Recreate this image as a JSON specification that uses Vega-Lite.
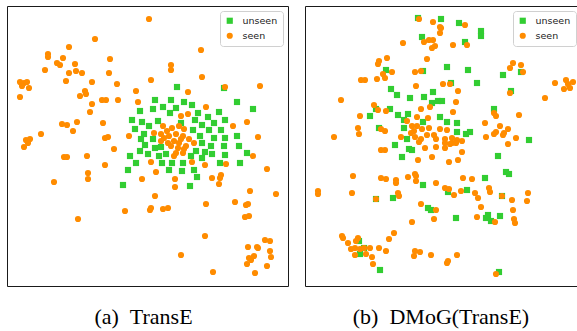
{
"$schema": "https://vega.github.io/schema/vega-lite/v6.json",
"padding": {"left": 6, "top": 5, "right": 0, "bottom": 0},
"spacing": 15,
"config": {
  "view": {"stroke": "#1a1a1a", "strokeWidth": 1},
  "legend": {"title": null, "orient": "top-right", "offset": 5, "fillColor": "white", "strokeColor": "#d0d0d0", "cornerRadius": 3, "padding": 5, "labelFont": "DejaVu Sans", "labelFontSize": 9.5, "labelColor": "#222", "symbolSize": 38, "rowPadding": 4, "labelOffset": 8, "symbolStrokeWidth": 0},
  "title": {"font": "Liberation Serif", "fontSize": 22, "fontWeight": "normal", "color": "black", "orient": "bottom", "offset": 21, "anchor": "middle"}
},
"datasets": {
"a": [
{"x":170,"y":81,"set":"unseen"},{"x":217,"y":82,"set":"unseen"},{"x":148,"y":94,"set":"unseen"},{"x":164,"y":94,"set":"unseen"},{"x":177,"y":96,"set":"unseen"},{"x":230,"y":96,"set":"unseen"},{"x":246,"y":103,"set":"unseen"},{"x":133,"y":105,"set":"unseen"},{"x":146,"y":103,"set":"unseen"},{"x":156,"y":101,"set":"unseen"},{"x":169,"y":102,"set":"unseen"},{"x":185,"y":99,"set":"unseen"},{"x":212,"y":106,"set":"unseen"},{"x":125,"y":114,"set":"unseen"},{"x":135,"y":116,"set":"unseen"},{"x":151,"y":115,"set":"unseen"},{"x":163,"y":107,"set":"unseen"},{"x":174,"y":117,"set":"unseen"},{"x":191,"y":107,"set":"unseen"},{"x":201,"y":111,"set":"unseen"},{"x":218,"y":114,"set":"unseen"},{"x":128,"y":123,"set":"unseen"},{"x":142,"y":120,"set":"unseen"},{"x":188,"y":114,"set":"unseen"},{"x":195,"y":119,"set":"unseen"},{"x":207,"y":117,"set":"unseen"},{"x":186,"y":124,"set":"unseen"},{"x":202,"y":124,"set":"unseen"},{"x":214,"y":124,"set":"unseen"},{"x":137,"y":128,"set":"unseen"},{"x":134,"y":133,"set":"unseen"},{"x":230,"y":130,"set":"unseen"},{"x":193,"y":130,"set":"unseen"},{"x":207,"y":132,"set":"unseen"},{"x":218,"y":132,"set":"unseen"},{"x":195,"y":137,"set":"unseen"},{"x":146,"y":133,"set":"unseen"},{"x":138,"y":139,"set":"unseen"},{"x":148,"y":142,"set":"unseen"},{"x":154,"y":141,"set":"unseen"},{"x":204,"y":140,"set":"unseen"},{"x":217,"y":140,"set":"unseen"},{"x":232,"y":140,"set":"unseen"},{"x":240,"y":147,"set":"unseen"},{"x":133,"y":145,"set":"unseen"},{"x":141,"y":148,"set":"unseen"},{"x":152,"y":150,"set":"unseen"},{"x":159,"y":148,"set":"unseen"},{"x":123,"y":150,"set":"unseen"},{"x":129,"y":157,"set":"unseen"},{"x":155,"y":157,"set":"unseen"},{"x":165,"y":157,"set":"unseen"},{"x":176,"y":157,"set":"unseen"},{"x":184,"y":150,"set":"unseen"},{"x":189,"y":145,"set":"unseen"},{"x":195,"y":152,"set":"unseen"},{"x":198,"y":146,"set":"unseen"},{"x":205,"y":148,"set":"unseen"},{"x":218,"y":149,"set":"unseen"},{"x":213,"y":157,"set":"unseen"},{"x":233,"y":157,"set":"unseen"},{"x":121,"y":164,"set":"unseen"},{"x":162,"y":164,"set":"unseen"},{"x":175,"y":165,"set":"unseen"},{"x":187,"y":164,"set":"unseen"},{"x":190,"y":171,"set":"unseen"},{"x":116,"y":179,"set":"unseen"},{"x":183,"y":180,"set":"unseen"},
{"x":142,"y":13,"set":"seen"},{"x":88,"y":33,"set":"seen"},{"x":62,"y":41,"set":"seen"},{"x":41,"y":48,"set":"seen"},{"x":41,"y":51,"set":"seen"},{"x":56,"y":52,"set":"seen"},{"x":50,"y":57,"set":"seen"},{"x":53,"y":59,"set":"seen"},{"x":68,"y":58,"set":"seen"},{"x":38,"y":64,"set":"seen"},{"x":62,"y":67,"set":"seen"},{"x":69,"y":65,"set":"seen"},{"x":75,"y":67,"set":"seen"},{"x":103,"y":53,"set":"seen"},{"x":102,"y":67,"set":"seen"},{"x":59,"y":75,"set":"seen"},{"x":85,"y":76,"set":"seen"},{"x":110,"y":78,"set":"seen"},{"x":13,"y":76,"set":"seen"},{"x":17,"y":77,"set":"seen"},{"x":20,"y":76,"set":"seen"},{"x":15,"y":80,"set":"seen"},{"x":22,"y":82,"set":"seen"},{"x":13,"y":91,"set":"seen"},{"x":78,"y":85,"set":"seen"},{"x":79,"y":88,"set":"seen"},{"x":73,"y":90,"set":"seen"},{"x":85,"y":98,"set":"seen"},{"x":95,"y":94,"set":"seen"},{"x":99,"y":94,"set":"seen"},{"x":111,"y":94,"set":"seen"},{"x":83,"y":106,"set":"seen"},{"x":129,"y":85,"set":"seen"},{"x":131,"y":96,"set":"seen"},{"x":144,"y":74,"set":"seen"},{"x":164,"y":59,"set":"seen"},{"x":164,"y":64,"set":"seen"},{"x":194,"y":44,"set":"seen"},{"x":195,"y":71,"set":"seen"},{"x":181,"y":86,"set":"seen"},{"x":218,"y":81,"set":"seen"},{"x":253,"y":80,"set":"seen"},{"x":199,"y":101,"set":"seen"},{"x":174,"y":110,"set":"seen"},{"x":181,"y":108,"set":"seen"},{"x":240,"y":116,"set":"seen"},{"x":226,"y":120,"set":"seen"},{"x":251,"y":131,"set":"seen"},{"x":55,"y":118,"set":"seen"},{"x":60,"y":119,"set":"seen"},{"x":70,"y":116,"set":"seen"},{"x":66,"y":125,"set":"seen"},{"x":96,"y":117,"set":"seen"},{"x":34,"y":128,"set":"seen"},{"x":23,"y":133,"set":"seen"},{"x":19,"y":134,"set":"seen"},{"x":17,"y":141,"set":"seen"},{"x":21,"y":137,"set":"seen"},{"x":98,"y":132,"set":"seen"},{"x":101,"y":131,"set":"seen"},{"x":107,"y":143,"set":"seen"},{"x":122,"y":130,"set":"seen"},
{"x":156,"y":120,"set":"seen"},{"x":160,"y":125,"set":"seen"},{"x":165,"y":122,"set":"seen"},{"x":172,"y":120,"set":"seen"},{"x":177,"y":123,"set":"seen"},{"x":147,"y":127,"set":"seen"},{"x":154,"y":128,"set":"seen"},{"x":162,"y":130,"set":"seen"},{"x":169,"y":128,"set":"seen"},{"x":176,"y":130,"set":"seen"},{"x":182,"y":133,"set":"seen"},{"x":187,"y":137,"set":"seen"},{"x":154,"y":135,"set":"seen"},{"x":161,"y":137,"set":"seen"},{"x":167,"y":135,"set":"seen"},{"x":172,"y":137,"set":"seen"},{"x":164,"y":140,"set":"seen"},{"x":171,"y":142,"set":"seen"},{"x":177,"y":143,"set":"seen"},{"x":169,"y":147,"set":"seen"},{"x":176,"y":147,"set":"seen"},{"x":167,"y":150,"set":"seen"},{"x":179,"y":140,"set":"seen"},{"x":174,"y":133,"set":"seen"},{"x":157,"y":132,"set":"seen"},
{"x":57,"y":151,"set":"seen"},{"x":60,"y":151,"set":"seen"},{"x":80,"y":150,"set":"seen"},{"x":98,"y":159,"set":"seen"},{"x":81,"y":167,"set":"seen"},{"x":81,"y":173,"set":"seen"},{"x":47,"y":176,"set":"seen"},{"x":135,"y":173,"set":"seen"},{"x":149,"y":166,"set":"seen"},{"x":144,"y":156,"set":"seen"},{"x":185,"y":156,"set":"seen"},{"x":198,"y":159,"set":"seen"},{"x":219,"y":158,"set":"seen"},{"x":246,"y":150,"set":"seen"},{"x":260,"y":163,"set":"seen"},{"x":168,"y":173,"set":"seen"},{"x":168,"y":181,"set":"seen"},{"x":205,"y":172,"set":"seen"},{"x":214,"y":169,"set":"seen"},{"x":213,"y":172,"set":"seen"},{"x":212,"y":178,"set":"seen"},{"x":243,"y":185,"set":"seen"},{"x":269,"y":188,"set":"seen"},{"x":148,"y":190,"set":"seen"},{"x":199,"y":198,"set":"seen"},{"x":228,"y":196,"set":"seen"},{"x":239,"y":199,"set":"seen"},{"x":241,"y":198,"set":"seen"},{"x":118,"y":205,"set":"seen"},{"x":143,"y":204,"set":"seen"},{"x":144,"y":202,"set":"seen"},{"x":156,"y":203,"set":"seen"},{"x":161,"y":202,"set":"seen"},{"x":71,"y":213,"set":"seen"},{"x":238,"y":211,"set":"seen"},{"x":242,"y":210,"set":"seen"},{"x":198,"y":230,"set":"seen"},{"x":174,"y":249,"set":"seen"},{"x":258,"y":234,"set":"seen"},{"x":263,"y":235,"set":"seen"},{"x":241,"y":241,"set":"seen"},{"x":250,"y":241,"set":"seen"},{"x":251,"y":242,"set":"seen"},{"x":263,"y":245,"set":"seen"},{"x":247,"y":250,"set":"seen"},{"x":242,"y":252,"set":"seen"},{"x":244,"y":254,"set":"seen"},{"x":240,"y":258,"set":"seen"},{"x":264,"y":251,"set":"seen"},{"x":260,"y":260,"set":"seen"},{"x":248,"y":267,"set":"seen"},{"x":206,"y":266,"set":"seen"}
],
"b": [
{"x":113,"y":12,"set":"unseen"},{"x":136,"y":13,"set":"unseen"},{"x":154,"y":17,"set":"unseen"},{"x":176,"y":25,"set":"unseen"},{"x":176,"y":30,"set":"unseen"},{"x":117,"y":31,"set":"unseen"},{"x":160,"y":36,"set":"unseen"},{"x":142,"y":61,"set":"unseen"},{"x":163,"y":64,"set":"unseen"},{"x":118,"y":65,"set":"unseen"},{"x":81,"y":64,"set":"unseen"},{"x":198,"y":69,"set":"unseen"},{"x":172,"y":77,"set":"unseen"},{"x":146,"y":77,"set":"unseen"},{"x":206,"y":85,"set":"unseen"},{"x":216,"y":66,"set":"unseen"},{"x":86,"y":83,"set":"unseen"},{"x":92,"y":89,"set":"unseen"},{"x":105,"y":92,"set":"unseen"},{"x":119,"y":91,"set":"unseen"},{"x":128,"y":86,"set":"unseen"},{"x":127,"y":97,"set":"unseen"},{"x":133,"y":95,"set":"unseen"},{"x":137,"y":95,"set":"unseen"},{"x":85,"y":103,"set":"unseen"},{"x":71,"y":103,"set":"unseen"},{"x":65,"y":110,"set":"unseen"},{"x":93,"y":109,"set":"unseen"},{"x":103,"y":108,"set":"unseen"},{"x":99,"y":114,"set":"unseen"},{"x":118,"y":116,"set":"unseen"},{"x":135,"y":111,"set":"unseen"},{"x":142,"y":116,"set":"unseen"},{"x":152,"y":117,"set":"unseen"},{"x":99,"y":122,"set":"unseen"},{"x":74,"y":122,"set":"unseen"},{"x":152,"y":126,"set":"unseen"},{"x":161,"y":128,"set":"unseen"},{"x":165,"y":126,"set":"unseen"},{"x":102,"y":133,"set":"unseen"},{"x":90,"y":139,"set":"unseen"},{"x":104,"y":143,"set":"unseen"},{"x":107,"y":144,"set":"unseen"},{"x":224,"y":134,"set":"unseen"},{"x":189,"y":103,"set":"unseen"},{"x":97,"y":151,"set":"unseen"},{"x":193,"y":150,"set":"unseen"},{"x":201,"y":166,"set":"unseen"},{"x":204,"y":168,"set":"unseen"},{"x":180,"y":172,"set":"unseen"},{"x":118,"y":179,"set":"unseen"},{"x":143,"y":186,"set":"unseen"},{"x":162,"y":184,"set":"unseen"},{"x":71,"y":193,"set":"unseen"},{"x":88,"y":192,"set":"unseen"},{"x":197,"y":190,"set":"unseen"},{"x":123,"y":202,"set":"unseen"},{"x":126,"y":204,"set":"unseen"},{"x":151,"y":212,"set":"unseen"},{"x":181,"y":212,"set":"unseen"},{"x":183,"y":209,"set":"unseen"},{"x":186,"y":215,"set":"unseen"},{"x":195,"y":210,"set":"unseen"},{"x":54,"y":235,"set":"unseen"},{"x":59,"y":242,"set":"unseen"},{"x":55,"y":248,"set":"unseen"},{"x":75,"y":264,"set":"unseen"},{"x":194,"y":266,"set":"unseen"},
{"x":114,"y":13,"set":"seen"},{"x":128,"y":16,"set":"seen"},{"x":135,"y":21,"set":"seen"},{"x":136,"y":22,"set":"seen"},{"x":135,"y":27,"set":"seen"},{"x":160,"y":19,"set":"seen"},{"x":98,"y":37,"set":"seen"},{"x":119,"y":36,"set":"seen"},{"x":124,"y":34,"set":"seen"},{"x":128,"y":34,"set":"seen"},{"x":127,"y":42,"set":"seen"},{"x":130,"y":40,"set":"seen"},{"x":148,"y":39,"set":"seen"},{"x":162,"y":39,"set":"seen"},{"x":82,"y":52,"set":"seen"},{"x":74,"y":55,"set":"seen"},{"x":73,"y":58,"set":"seen"},{"x":122,"y":53,"set":"seen"},{"x":87,"y":66,"set":"seen"},{"x":78,"y":68,"set":"seen"},{"x":80,"y":72,"set":"seen"},{"x":72,"y":73,"set":"seen"},{"x":110,"y":66,"set":"seen"},{"x":116,"y":65,"set":"seen"},{"x":56,"y":74,"set":"seen"},{"x":60,"y":74,"set":"seen"},{"x":111,"y":80,"set":"seen"},{"x":138,"y":78,"set":"seen"},{"x":145,"y":78,"set":"seen"},{"x":153,"y":85,"set":"seen"},{"x":36,"y":94,"set":"seen"},{"x":69,"y":99,"set":"seen"},{"x":73,"y":104,"set":"seen"},{"x":81,"y":105,"set":"seen"},{"x":55,"y":110,"set":"seen"},{"x":116,"y":103,"set":"seen"},{"x":125,"y":101,"set":"seen"},{"x":151,"y":96,"set":"seen"},{"x":148,"y":106,"set":"seen"},{"x":102,"y":115,"set":"seen"},{"x":112,"y":111,"set":"seen"},{"x":123,"y":112,"set":"seen"},{"x":53,"y":122,"set":"seen"},{"x":54,"y":128,"set":"seen"},{"x":76,"y":123,"set":"seen"},{"x":80,"y":125,"set":"seen"},{"x":29,"y":131,"set":"seen"},{"x":107,"y":120,"set":"seen"},{"x":112,"y":120,"set":"seen"},{"x":117,"y":123,"set":"seen"},{"x":124,"y":122,"set":"seen"},{"x":109,"y":125,"set":"seen"},{"x":106,"y":127,"set":"seen"},{"x":135,"y":123,"set":"seen"},{"x":142,"y":124,"set":"seen"},{"x":96,"y":131,"set":"seen"},{"x":110,"y":131,"set":"seen"},{"x":116,"y":133,"set":"seen"},{"x":122,"y":129,"set":"seen"},{"x":129,"y":129,"set":"seen"},{"x":131,"y":133,"set":"seen"},{"x":140,"y":133,"set":"seen"},{"x":140,"y":137,"set":"seen"},{"x":147,"y":132,"set":"seen"},{"x":147,"y":137,"set":"seen"},{"x":152,"y":134,"set":"seen"},{"x":157,"y":135,"set":"seen"},{"x":180,"y":117,"set":"seen"},{"x":195,"y":120,"set":"seen"},{"x":189,"y":128,"set":"seen"},{"x":191,"y":126,"set":"seen"},{"x":198,"y":129,"set":"seen"},{"x":199,"y":127,"set":"seen"},{"x":203,"y":123,"set":"seen"},{"x":181,"y":131,"set":"seen"},{"x":203,"y":138,"set":"seen"},{"x":211,"y":132,"set":"seen"},{"x":189,"y":107,"set":"seen"},{"x":191,"y":110,"set":"seen"},{"x":214,"y":109,"set":"seen"},{"x":205,"y":62,"set":"seen"},{"x":208,"y":57,"set":"seen"},{"x":216,"y":59,"set":"seen"},{"x":218,"y":66,"set":"seen"},{"x":205,"y":87,"set":"seen"},{"x":240,"y":92,"set":"seen"},{"x":250,"y":77,"set":"seen"},{"x":261,"y":74,"set":"seen"},{"x":263,"y":78,"set":"seen"},{"x":268,"y":76,"set":"seen"},{"x":259,"y":83,"set":"seen"},{"x":265,"y":82,"set":"seen"},
{"x":76,"y":144,"set":"seen"},{"x":80,"y":144,"set":"seen"},{"x":114,"y":136,"set":"seen"},{"x":120,"y":142,"set":"seen"},{"x":127,"y":151,"set":"seen"},{"x":113,"y":154,"set":"seen"},{"x":131,"y":141,"set":"seen"},{"x":140,"y":142,"set":"seen"},{"x":145,"y":138,"set":"seen"},{"x":151,"y":137,"set":"seen"},{"x":157,"y":146,"set":"seen"},{"x":153,"y":154,"set":"seen"},{"x":144,"y":156,"set":"seen"},
{"x":48,"y":170,"set":"seen"},{"x":76,"y":172,"set":"seen"},{"x":81,"y":173,"set":"seen"},{"x":91,"y":174,"set":"seen"},{"x":91,"y":177,"set":"seen"},{"x":103,"y":171,"set":"seen"},{"x":110,"y":168,"set":"seen"},{"x":111,"y":170,"set":"seen"},{"x":111,"y":175,"set":"seen"},{"x":158,"y":172,"set":"seen"},{"x":167,"y":173,"set":"seen"},{"x":131,"y":177,"set":"seen"},{"x":140,"y":182,"set":"seen"},{"x":144,"y":183,"set":"seen"},{"x":149,"y":189,"set":"seen"},{"x":156,"y":185,"set":"seen"},{"x":170,"y":187,"set":"seen"},{"x":173,"y":192,"set":"seen"},{"x":184,"y":182,"set":"seen"},{"x":185,"y":186,"set":"seen"},{"x":197,"y":190,"set":"seen"},{"x":207,"y":194,"set":"seen"},{"x":222,"y":195,"set":"seen"},{"x":223,"y":187,"set":"seen"},{"x":208,"y":204,"set":"seen"},{"x":176,"y":201,"set":"seen"},{"x":13,"y":185,"set":"seen"},{"x":13,"y":188,"set":"seen"},{"x":47,"y":187,"set":"seen"},{"x":71,"y":193,"set":"seen"},{"x":93,"y":187,"set":"seen"},{"x":94,"y":190,"set":"seen"},{"x":116,"y":198,"set":"seen"},{"x":131,"y":204,"set":"seen"},{"x":129,"y":213,"set":"seen"},{"x":107,"y":216,"set":"seen"},{"x":172,"y":211,"set":"seen"},{"x":190,"y":216,"set":"seen"},{"x":209,"y":213,"set":"seen"},{"x":210,"y":217,"set":"seen"},{"x":89,"y":227,"set":"seen"},{"x":84,"y":233,"set":"seen"},{"x":74,"y":242,"set":"seen"},{"x":81,"y":245,"set":"seen"},{"x":38,"y":232,"set":"seen"},{"x":37,"y":230,"set":"seen"},{"x":43,"y":237,"set":"seen"},{"x":51,"y":235,"set":"seen"},{"x":53,"y":232,"set":"seen"},{"x":46,"y":243,"set":"seen"},{"x":50,"y":242,"set":"seen"},{"x":55,"y":243,"set":"seen"},{"x":59,"y":242,"set":"seen"},{"x":61,"y":248,"set":"seen"},{"x":65,"y":242,"set":"seen"},{"x":50,"y":249,"set":"seen"},{"x":67,"y":251,"set":"seen"},{"x":68,"y":258,"set":"seen"},{"x":110,"y":245,"set":"seen"},{"x":109,"y":250,"set":"seen"},{"x":115,"y":246,"set":"seen"},{"x":126,"y":249,"set":"seen"},{"x":142,"y":257,"set":"seen"},{"x":143,"y":255,"set":"seen"},{"x":152,"y":249,"set":"seen"},{"x":191,"y":268,"set":"seen"}
]
},
"hconcat": [
{
  "data": {"name": "a"},
  "width": 281, "height": 280,
  "title": {"text": "(a)\u00a0\u00a0TransE", "dx": -4},
  "mark": {"type": "point", "filled": true, "opacity": 1, "size": 38},
  "encoding": {
    "x": {"field": "x", "type": "quantitative", "scale": {"domain": [0, 281], "nice": false, "zero": false}, "axis": null},
    "y": {"field": "y", "type": "quantitative", "scale": {"domain": [0, 280], "nice": false, "reverse": true}, "axis": null},
    "color": {"field": "set", "type": "nominal", "scale": {"domain": ["unseen", "seen"], "range": ["#32cd32", "#ff8c00"]}, "legend": {}},
    "shape": {"field": "set", "type": "nominal", "scale": {"domain": ["unseen", "seen"], "range": ["square", "circle"]}, "legend": {}}
  }
},
{
  "data": {"name": "b"},
  "width": 276, "height": 280,
  "title": {"text": "(b)\u00a0\u00a0DMoG(TransE)", "dx": -2},
  "mark": {"type": "point", "filled": true, "opacity": 1, "size": 38},
  "encoding": {
    "x": {"field": "x", "type": "quantitative", "scale": {"domain": [0, 276], "nice": false, "zero": false}, "axis": null},
    "y": {"field": "y", "type": "quantitative", "scale": {"domain": [0, 280], "nice": false, "reverse": true}, "axis": null},
    "color": {"field": "set", "type": "nominal", "scale": {"domain": ["unseen", "seen"], "range": ["#32cd32", "#ff8c00"]}, "legend": {}},
    "shape": {"field": "set", "type": "nominal", "scale": {"domain": ["unseen", "seen"], "range": ["square", "circle"]}, "legend": {}}
  }
}
],
"resolve": {"scale": {"color": "independent", "shape": "independent"}, "legend": {"color": "independent", "shape": "independent"}}
}
